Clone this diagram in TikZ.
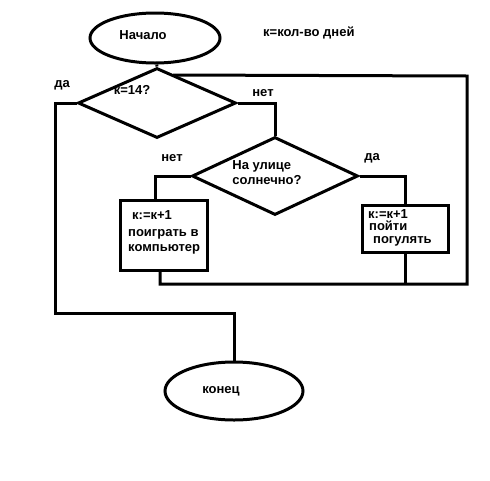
\documentclass[tikz,border=0pt]{standalone}
\usepackage{fontspec}
\setmainfont{Liberation Sans}
\usetikzlibrary{shapes.geometric,calc}
\begin{document}
\begin{tikzpicture}[x=1pt,y=-1pt,
  ln/.style={line width=3pt},
  term/.style={ellipse,draw,line width=3pt,inner sep=0pt},
  dec/.style={diamond,draw,line width=3pt,inner sep=0pt},
  proc/.style={rectangle,draw,line width=3pt,inner sep=0pt},
  txt/.style={font=\fontsize{13}{15}\selectfont\bfseries,inner sep=0pt}]
\useasboundingbox[fill=white] (0,0) rectangle (490,480);
% shapes
\node[term,minimum width=130pt,minimum height=50pt] (start) at (155,38) {};
\node[txt] (starttxt) at (143,35) {Начало};
\node[txt,anchor=west] (note) at (263,33) {к=кол-во дней};
\node[dec,minimum width=158pt,minimum height=70pt] (d1) at (157,103) {};
\node[txt] (d1txt) at (132,90) {к=14?};
\node[dec,minimum width=166pt,minimum height=78pt] (d2) at (275,176) {};
\node[txt,align=left] (d2txt) at (267,173) {На улице\\солнечно?};
\node[proc,minimum width=87pt,minimum height=70pt] (b1) at (163.5,235) {};
\node[txt,anchor=west] (b1a) at (132,215) {к:=к+1};
\node[txt,anchor=west,align=left] (b1b) at (128,242) {поиграть в\\компьютер};
\node[proc,minimum width=86pt,minimum height=47pt] (b2) at (405,228.5) {};
\node[txt,anchor=west] (b2a) at (368,214) {к:=к+1};
\node[txt,anchor=west] (b2b) at (369,226) {пойти};
\node[txt,anchor=west] (b2c) at (373,241) {погулять};
\node[term,minimum width=138pt,minimum height=58pt] (end) at (234,391) {};
\node[txt] (endtxt) at (221,391) {конец};
% labels
\node[txt] (yes1) at (62,85) {да};
\node[txt] (no1) at (263,93) {нет};
\node[txt] (no2) at (172,158) {нет};
\node[txt] (yes2) at (372,158) {да};
% coordinates
\coordinate (loopstart) at (173,75);
\coordinate (tr) at (467,76);
\coordinate (br) at (467,284);
\coordinate (lb) at (55,313);
\coordinate (b1in) at (155,200);
% connectors
\draw[ln] (start) -- (d1.north);
\draw[ln] (d1.west) -| (lb) -| (end.north);
\draw[ln] (d1.east) -| (d2.north);
\draw[ln] (d2.west) -| (b1in);
\draw[ln] (d2.east) -| (b2.north);
\draw[ln] (b1.south -| 160,0) |- (br) -- (tr) -- (loopstart);
\draw[ln] (b2.south) -- (b2.south |- br);
\end{tikzpicture}
\end{document}
